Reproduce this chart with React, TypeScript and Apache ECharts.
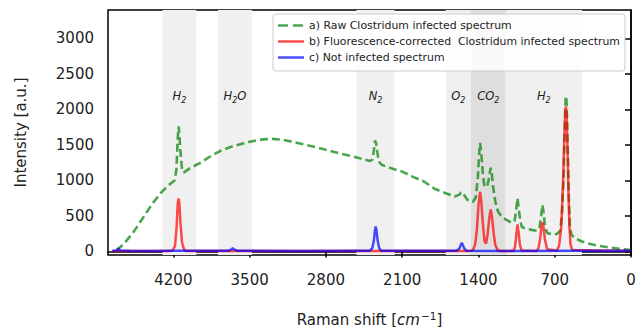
import React, { useEffect, useRef } from "react";
import * as echarts from "echarts";

// Raman shift axis ticks and intensity ticks
const shiftTicks = [0, 700, 1400, 2100, 2800, 3500, 4200];
const intensityTicks = [0, 500, 1000, 1500, 2000, 2500, 3000];

// a) Raw Clostridum infected spectrum
const rawShift = [4720,4650,4570,4480,4390,4300,4230,4190,4172,4160,4152,4145,4135,4120,4105,4050,3950,3850,3750,3650,3500,3380,3300,3200,3050,2900,2750,2600,2450,2395,2375,2360,2350,2340,2330,2315,2290,2200,2100,2000,1900,1800,1700,1620,1575,1560,1545,1525,1500,1450,1425,1405,1395,1385,1375,1360,1345,1320,1305,1295,1287,1278,1265,1245,1220,1190,1150,1100,1070,1055,1042,1030,1015,1000,950,900,860,840,825,812,800,790,770,720,680,650,635,620,610,600,595,590,580,570,560,545,520,450,400,300,200,100,0];
const rawIntensity = [15,115,265,470,680,850,950,1000,1150,1600,1760,1650,1400,1150,1110,1170,1250,1350,1430,1485,1545,1578,1585,1575,1525,1470,1410,1355,1295,1275,1290,1420,1560,1530,1420,1270,1220,1170,1125,1050,985,880,820,775,800,830,835,780,725,700,760,1050,1350,1530,1400,1100,910,920,1020,1120,1180,1100,900,700,560,500,450,405,420,560,750,600,420,340,315,300,290,330,500,655,520,360,260,240,245,290,500,1000,1600,2150,2190,2050,1400,700,320,235,190,140,115,80,55,35,20];

// b) Fluorescence-corrected Clostridum infected spectrum
const corrShift = [4760,4230,4205,4185,4170,4160,4152,4145,4135,4120,4100,4080,1480,1450,1430,1415,1400,1385,1375,1360,1345,1330,1315,1300,1287,1275,1260,1245,1225,1200,1080,1065,1055,1042,1030,1020,1005,870,850,835,822,812,802,790,770,680,660,640,625,612,603,597,590,582,575,565,555,540,0];
const corrIntensity = [5,5,15,80,350,680,745,680,400,120,20,5,5,20,100,300,650,840,720,400,150,110,250,480,590,480,250,90,20,5,5,60,200,380,250,100,15,5,40,170,330,410,330,170,30,10,80,350,900,1600,2000,2040,1900,1400,900,350,100,20,5];

// c) Not infected spectrum
const cleanShift = [4760,4720,4705,4690,4600,4400,4200,3700,3670,3655,3640,3610,3000,2600,2400,2375,2360,2350,2344,2336,2325,2310,2290,1900,1600,1575,1560,1553,1545,1530,1510,1000,500,0];
const cleanIntensity = [10,15,45,15,10,5,10,10,25,45,25,10,5,10,10,40,150,300,350,300,150,40,10,10,10,40,100,120,100,40,10,5,10,10];

// shaded bands
const bandFrom = [4300, 3790, 2520, 1700, 1470, 1150];
const bandTo = [3990, 3480, 2170, 1470, 1150, 450];
const bandLabels = ["{m|H}{s|2}", "{m|H}{s|2}{m|O}", "{m|N}{s|2}", "{m|O}{s|2}", "{m|CO}{s|2}", "{m|H}{s|2}"];
const bandShade = ["#f0f0f0", "#f0f0f0", "#f0f0f0", "#efefef", "#dedede", "#f0f0f0"];

const seriesNames = [
  "a) Raw Clostridum infected spectrum",
  "b) Fluorescence-corrected  Clostridum infected spectrum",
  "c) Not infected spectrum",
];

const pairs = (xs: number[], ys: number[]) => xs.map((x, i) => [x, ys[i]]);

const FONT = "DejaVu Sans";
const DASH_ICON = "path://M0,0h10v2.5h-10z M15,0h10v2.5h-10z M26,0h0.01v2.5h-0.01z";
const SOLID_ICON = "path://M0,0h26v2.5h-26z";

export default function App() {
  const ref = useRef<HTMLDivElement>(null);
  useEffect(() => {
    if (!ref.current) return;
    const chart = echarts.init(ref.current, null, { renderer: "svg" });
    chart.setOption({
      animation: false,
      textStyle: { fontFamily: FONT },
      grid: {
        left: 108, right: 12, top: 10, bottom: 72,
        outerBoundsMode: "none",
        containLabel: false,
        show: true, borderColor: "#000", borderWidth: 1.5, backgroundColor: "transparent",
      },
      legend: {
        data: [
          { name: seriesNames[0], icon: DASH_ICON },
          { name: seriesNames[1], icon: SOLID_ICON },
          { name: seriesNames[2], icon: SOLID_ICON },
        ],
        orient: "vertical",
        left: 273, top: 14,
        padding: [5, 5, 7, 5],
        itemGap: 3,
        itemWidth: 26, itemHeight: 2.5,
        symbolKeepAspect: false,
        backgroundColor: "rgba(255,255,255,0.85)",
        borderColor: "#cccccc", borderWidth: 1, borderRadius: 3,
        textStyle: { fontFamily: FONT, fontSize: 10.9, color: "#222", lineHeight: 13 },
      },
      xAxis: {
        type: "value", min: 0, max: 4800, inverse: true,
        name: "Raman shift [{i|cm}{sup|−1}]",
        nameLocation: "middle", nameGap: 55,
        nameTextStyle: {
          fontFamily: FONT, fontSize: 15, color: "#222",
          rich: {
            i: { fontFamily: FONT, fontSize: 15, fontStyle: "italic", color: "#222" },
            sup: { fontFamily: FONT, fontSize: 10.5, verticalAlign: "top", color: "#222", padding: [0, 0, 8, 1] },
          },
        },
        axisLine: { show: true, lineStyle: { color: "#000", width: 1.5 } },
        axisTick: { show: true, customValues: shiftTicks, length: 6, lineStyle: { color: "#000", width: 1.5 } },
        axisLabel: { customValues: shiftTicks, margin: 17, fontSize: 15, color: "#222", fontFamily: FONT, formatter: (v: number) => String(v) },
        splitLine: { show: false },
      },
      yAxis: {
        type: "value", min: -50, max: 3400,
        name: "Intensity [a.u.]",
        nameLocation: "middle", nameGap: 80,
        nameTextStyle: { fontFamily: FONT, fontSize: 15, color: "#222" },
        axisLine: { show: true, lineStyle: { color: "#000", width: 1.5 } },
        axisTick: { show: true, customValues: intensityTicks, length: 6, lineStyle: { color: "#000", width: 1.5 } },
        axisLabel: { customValues: intensityTicks, margin: 14, fontSize: 15, color: "#222", fontFamily: FONT, formatter: (v: number) => String(v) },
        splitLine: { show: false },
      },
      series: [
        {
          type: "line", name: "bands", data: [], silent: true, z: 1,
          markArea: {
            silent: true,
            label: {
              show: true, position: "insideTop", distance: 77,
              formatter: (p: any) => p.name,
              rich: {
                m: { fontFamily: FONT, fontSize: 11.5, fontStyle: "italic", color: "#222", lineHeight: 15, verticalAlign: "bottom" },
                s: { fontFamily: FONT, fontSize: 8, fontStyle: "italic", color: "#222", lineHeight: 10, verticalAlign: "bottom", padding: [0, 0, -2, 0] },
              },
            },
            data: bandFrom.map((f, i) => [
              { name: bandLabels[i], xAxis: f, itemStyle: { color: bandShade[i] } },
              { xAxis: bandTo[i] },
            ]),
          },
        },
        {
          type: "line", name: seriesNames[0], data: pairs(rawShift, rawIntensity),
          symbol: "none", z: 2,
          lineStyle: { color: "rgba(0,128,0,0.7)", width: 2.6, type: [8, 4] },
          itemStyle: { color: "rgba(0,128,0,0.7)" },
        },
        {
          type: "line", name: seriesNames[1], data: pairs(corrShift, corrIntensity),
          symbol: "none", z: 3,
          lineStyle: { color: "rgba(255,0,0,0.7)", width: 2.5 },
          itemStyle: { color: "rgba(255,0,0,0.7)" },
        },
        {
          type: "line", name: seriesNames[2], data: pairs(cleanShift, cleanIntensity),
          symbol: "none", z: 4,
          lineStyle: { color: "rgba(0,0,255,0.7)", width: 2.5 },
          itemStyle: { color: "rgba(0,0,255,0.7)" },
        },
      ],
    });
    return () => chart.dispose();
  }, []);
  return (
    <div
      ref={ref}
      style={{ position: "fixed", left: 0, top: 0, width: 643, height: 327, background: "#fff" }}
    />
  );
}
